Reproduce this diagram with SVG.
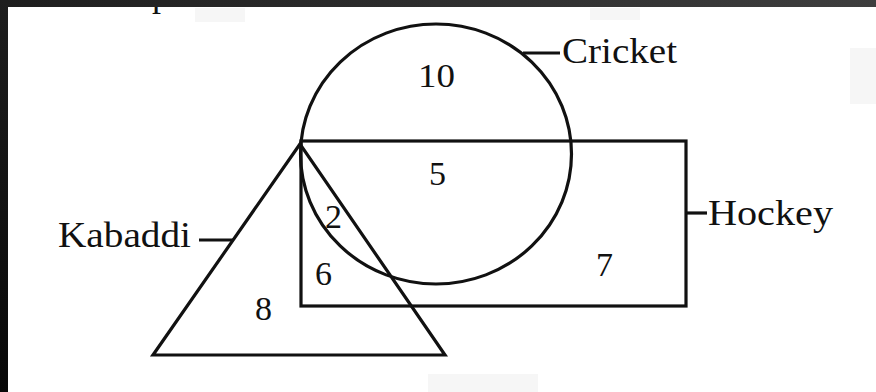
<svg xmlns="http://www.w3.org/2000/svg" width="876" height="392" viewBox="0 0 876 392">
<defs>
<linearGradient id="topbar" x1="0" y1="0" x2="1" y2="0"><stop offset="0" stop-color="#1e1e1e"/><stop offset="1" stop-color="#3e3e3e"/></linearGradient>
<linearGradient id="leftbar" x1="0" y1="0" x2="0" y2="1"><stop offset="0" stop-color="#1e1e1e"/><stop offset="1" stop-color="#080808"/></linearGradient>
</defs>
<style>
.shape{fill:none;stroke:#111111;stroke-width:3.2}
.tick{fill:none;stroke:#111111;stroke-width:3.2}
.lbl{font-family:"Liberation Serif","Times New Roman",serif;font-size:36px;fill:#111111}
.num{font-family:"Liberation Serif","Times New Roman",serif;font-size:34px;fill:#111111}
.smudge{fill:#f6f6f6}
</style>
<rect width="876" height="392" fill="#ffffff"/>
<g id="smudges">
<rect class="smudge" x="195" y="8" width="50" height="14"/>
<rect class="smudge" x="590" y="8" width="50" height="12"/>
<rect class="smudge" x="850" y="48" width="26" height="56"/>
<rect class="smudge" x="428" y="374" width="110" height="18"/>
</g>
<text class="lbl" x="152" y="6">p</text>
<g id="cricket">
<ellipse class="shape" cx="436" cy="154" rx="135.5" ry="130"/>
<text class="lbl" x="562" y="63" textLength="115" lengthAdjust="spacingAndGlyphs">Cricket</text>
</g>
<g id="hockey">
<rect class="shape" x="301" y="141" width="385" height="165"/>
<text class="lbl" x="708" y="225" textLength="125" lengthAdjust="spacingAndGlyphs">Hockey</text>
</g>
<g id="kabaddi">
<polygon class="shape" points="300,144 153,355 445,355" stroke-linejoin="miter"/>
<text class="lbl" x="58" y="247" textLength="133" lengthAdjust="spacingAndGlyphs">Kabaddi</text>
</g>
<g id="connectors">
<line class="tick" x1="523" y1="53" x2="560" y2="53"/>
<line class="tick" x1="686" y1="213" x2="707" y2="213"/>
<line class="tick" x1="199" y1="240" x2="233" y2="240"/>
</g>
<g id="regions">
<text class="num" x="418" y="87" textLength="37" lengthAdjust="spacingAndGlyphs">10</text>
<text class="num" x="429" y="185">5</text>
<text class="num" x="325" y="228">2</text>
<text class="num" x="315" y="285">6</text>
<text class="num" x="255" y="320">8</text>
<text class="num" x="596" y="276">7</text>
</g>
<rect x="0" y="0" width="876" height="7" fill="url(#topbar)"/>
<rect x="0" y="0" width="8" height="392" fill="url(#leftbar)"/>
</svg>
